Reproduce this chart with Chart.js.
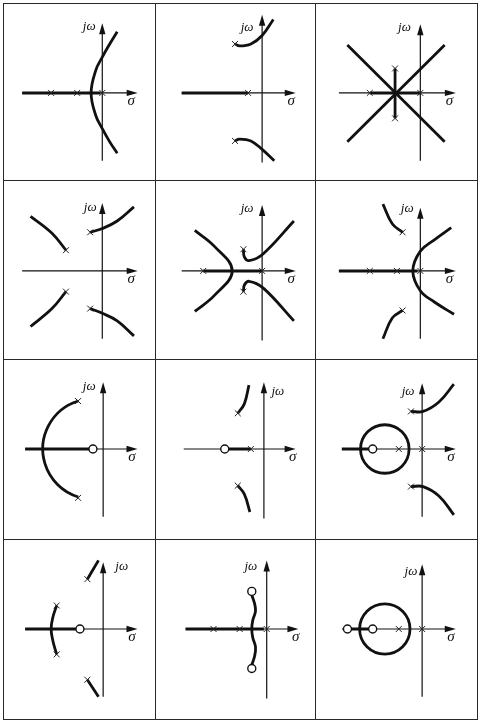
<!DOCTYPE html>
<html><head><meta charset="utf-8">
<script src="https://cdn.jsdelivr.net/npm/chart.js@4/dist/chart.umd.min.js"></script>
<style>
html,body{margin:0;padding:0;background:#fff;width:479px;height:722px;overflow:hidden}
#wrap{position:relative;width:479px;height:722px}
canvas{position:absolute}
.ln{position:absolute;background:#2a2a2a}
</style></head><body><div id="wrap"></div>
<script>
// ---------- DATA (sigma, omega) per panel ----------
const realLabel = 'σ';
const imagLabel = 'jω';

// open-loop poles (×)
const poles = [
  [[-55,0],[-27,0],[0,0]],
  [[-15,0],[-29,52],[-29,-51]],
  [[-54,0],[0,0],[-27,26],[-27,-27]],
  [[-39,22],[-39,-22],[-13,41],[-13,-40]],
  [[-63,0],[0,0],[-20,23],[-20,-22]],
  [[-54,0],[-25,0],[0,0],[-19,41],[-19,-42]],
  [[-27,51],[-27,-52]],
  [[-14,0],[-28,38],[-28,-39]],
  [[-25,0],[0,0],[-12,40],[-12,-40]],
  [[-50,25],[-50,-27],[-17,53],[-17,-54]],
  [[-57,0],[-29,0],[0,0]],
  [[-25,0],[0,0]]
];
// open-loop zeros (o)
const zeros = [
  [],[],[],[],[],[],
  [[-11,0]],
  [[-42,0]],
  [[-53,0]],
  [[-25,0]],
  [[-16,40],[-16,-42]],
  [[-80,0],[-53,0]]
];
// locus segments lying on the real axis [from, to]
const realSegments = [
  [[-86,-2]],
  [[-86,-15]],
  [[-54,0]],
  [],
  [[-63,0]],
  [[-87,-3]],
  [[-84,-11]],
  [[-42,-14]],
  [[-86,-53]],
  [[-84,-25]],
  [[-87,-3]],
  [[-80,-53]]
];
// straight locus pieces off the real axis [[x1,y1],[x2,y2]]
const straightBranches = [
  [],[],
  [[[-78,51],[26,-52]],[[26,51],[-78,-52]],[[-27,26],[-27,-27]]],
  [],[],[],[],[],[],[],[],[]
];
// curved locus branches (points along each branch)
const branches = [
  [[[16,65],[8,52],[0,38],[-7,24],[-12,0],[-7,-24],[0,-38],[8,-52],[16,-64]]],
  [[[-29,52],[-24,50],[-12,52],[0,61],[12,78]],
   [[-29,-51],[-24,-49],[-12,-51],[0,-60],[13,-72]]],
  [],
  [[[-39,22],[-54,40],[-77,58]],[[-39,-22],[-54,-40],[-77,-59]],
   [[-13,41],[0,45],[16,53],[34,68]],[[-13,-40],[0,-45],[16,-53],[34,-69]]],
  [[[-72,43],[-51,26],[-32,0],[-51,-26],[-72,-43]],
   [[-20,23],[-19,15],[-14,11],[1,18],[34,53]],
   [[-20,-22],[-19,-15],[-14,-11],[1,-18],[34,-53]]],
  [[[33,46],[15,33],[0,21],[-8,0],[0,-21],[15,-33],[36,-46]],
   [[-19,41],[-30,50],[-40,71]],[[-19,-42],[-30,-50],[-40,-72]]],
  [],
  [[[-28,38],[-21,48],[-16,68]],[[-28,-39],[-21,-48],[-15,-67]]],
  [[[-12,40],[1,40],[18,50],[34,69]],[[-12,-40],[1,-40],[18,-50],[34,-70]]],
  [[[-50,25],[-54,13],[-56,0],[-54,-13],[-50,-27]],
   [[-17,53],[-5,73]],[[-17,-54],[-5,-72]]],
  [[[-16,36],[-13,27],[-12,19],[-15,9],[-16,0],[-15,-9],[-12,-19],[-13,-29],[-16,-38]]],
  []
];
// circular locus pieces [centerSigma, radius, startDeg, endDeg]
const circles = [
  [],[],[],[],[],[],
  [[-11,54,107,253]],
  [],
  [[-40,26,0,360]],
  [],
  [],
  [[-40,27,0,360]]
];

// ---------- LAYOUT (page geometry, not data) ----------
const colEdges = [3,155,315,477];
const rowEdges = [3,180,359,539,719];
const origins = [[104,93],[264,93],[422,93],[104,271],[264,271],[422,271],
                 [105,449],[266,449],[424,449],[105,629],[269,629],[424,629]];
const hAxis = [[-86,38],[-86,36],[-87,38],[-86,38],[-86,36],[-87,38],
               [-84,37],[-86,34],[-86,36],[-84,37],[-87,34],[-86,36]];
const vAxis = [[-72,74],[-74,83],[-72,73],[-72,72],[-74,70],[-72,67],
               [-72,71],[-74,71],[-72,70],[-72,71],[-74,73],[-72,69]];
const imagLabelPos = [[-14,70],[-16,69],[-17,69],[-13,67],[-16,66],[-14,66],
                      [-15,66],[15,61],[-15,61],[20,66],[-17,66],[-12,61]];
const realLabelPos = [31,-9];

const wrap = document.getElementById('wrap');
// grid lines
function line(x,y,w,h){const d=document.createElement('div');d.className='ln';
  d.style.left=x+'px';d.style.top=y+'px';d.style.width=w+'px';d.style.height=h+'px';wrap.appendChild(d);}
colEdges.forEach(x=>line(x-0.5,rowEdges[0]-0.5,1.4,rowEdges[4]-rowEdges[0]+1));
rowEdges.forEach(y=>line(colEdges[0]-0.5,y-0.5,colEdges[3]-colEdges[0]+1,1.4));

const INK = '#111';
const axesPlugin = {
  id:'rlAxes',
  beforeDatasetsDraw(chart){
    const i = chart.options.plugins.rlAxes.idx;
    const xs = chart.scales.x, ys = chart.scales.y, ctx = chart.ctx;
    const px = v=>xs.getPixelForValue(v), py = v=>ys.getPixelForValue(v);
    ctx.save();
    ctx.strokeStyle = INK; ctx.fillStyle = INK; ctx.lineWidth = 1.2;
    const [h0,h1] = hAxis[i], [v0,v1] = vAxis[i];
    ctx.beginPath(); ctx.moveTo(px(h0),py(0)); ctx.lineTo(px(h1)-4,py(0)); ctx.stroke();
    ctx.beginPath(); ctx.moveTo(px(0),py(v0)); ctx.lineTo(px(0),py(v1)+4); ctx.stroke();
    // arrow heads
    ctx.beginPath(); ctx.moveTo(px(h1),py(0)); ctx.lineTo(px(h1)-11,py(0)-3.2); ctx.lineTo(px(h1)-11,py(0)+3.2); ctx.closePath(); ctx.fill();
    ctx.beginPath(); ctx.moveTo(px(0),py(v1)); ctx.lineTo(px(0)-3.2,py(v1)+11); ctx.lineTo(px(0)+3.2,py(v1)+11); ctx.closePath(); ctx.fill();
    // circles
    ctx.lineWidth = 2.8;
    circles[i].forEach(([c,r,a0,a1])=>{
      const rp = Math.abs(px(c+r)-px(c));
      ctx.beginPath();
      ctx.arc(px(c),py(0),rp,-a0*Math.PI/180,-a1*Math.PI/180,true);
      ctx.stroke();
    });
    ctx.restore();
  },
  afterDraw(chart){
    const i = chart.options.plugins.rlAxes.idx;
    const xs = chart.scales.x, ys = chart.scales.y, ctx = chart.ctx;
    ctx.save();
    ctx.fillStyle = INK; ctx.textAlign='center'; ctx.textBaseline='middle';
    ctx.font = 'italic 13px "Liberation Serif", "DejaVu Serif", serif';
    ctx.fillText(imagLabel, xs.getPixelForValue(imagLabelPos[i][0]), ys.getPixelForValue(imagLabelPos[i][1]));
    ctx.font = 'italic 15px "Liberation Serif", "DejaVu Serif", serif';
    ctx.fillText(realLabel, xs.getPixelForValue(realLabelPos[0]), ys.getPixelForValue(realLabelPos[1]));
    ctx.restore();
  }
};

const pt = a=>({x:a[0],y:a[1]});
for(let i=0;i<12;i++){
  const r = Math.floor(i/3), c = i%3;
  const L = colEdges[c], T = rowEdges[r];
  const W = colEdges[c+1]-L, H = rowEdges[r+1]-T;
  const [ox,oy] = origins[i];
  const cv = document.createElement('canvas');
  cv.width = W; cv.height = H; cv.style.left=L+'px'; cv.style.top=T+'px';
  cv.style.width=W+'px'; cv.style.height=H+'px';
  wrap.appendChild(cv);
  const ds = [];
  if(zeros[i].length) ds.push({type:'scatter',data:zeros[i].map(pt),pointStyle:'circle',pointRadius:4,
     pointBackgroundColor:'#fff',pointBorderColor:INK,pointBorderWidth:1.4});
  if(poles[i].length) ds.push({type:'scatter',data:poles[i].map(pt),pointStyle:'crossRot',pointRadius:4.2,
     pointBorderColor:'#222',pointBorderWidth:1});
  branches[i].forEach(b=>ds.push({type:'line',data:b.map(pt),borderColor:INK,borderWidth:2.8,
     pointRadius:0,tension:0.4,fill:false,borderCapStyle:'butt'}));
  straightBranches[i].forEach(b=>ds.push({type:'line',data:b.map(pt),borderColor:INK,borderWidth:2.8,
     pointRadius:0,tension:0,fill:false}));
  realSegments[i].forEach(s=>ds.push({type:'line',data:[{x:s[0],y:0},{x:s[1],y:0}],borderColor:INK,
     borderWidth:3,pointRadius:0,tension:0,fill:false}));
  new Chart(cv,{
    data:{datasets:ds},
    options:{
      responsive:false, animation:false, events:[],
      layout:{padding:0},
      scales:{
        x:{type:'linear',min:L-ox,max:L+W-ox,display:false},
        y:{type:'linear',min:oy-T-H,max:oy-T,display:false}
      },
      plugins:{legend:{display:false},tooltip:{enabled:false},rlAxes:{idx:i}}
    },
    plugins:[axesPlugin]
  });
}
</script>
</body></html>
